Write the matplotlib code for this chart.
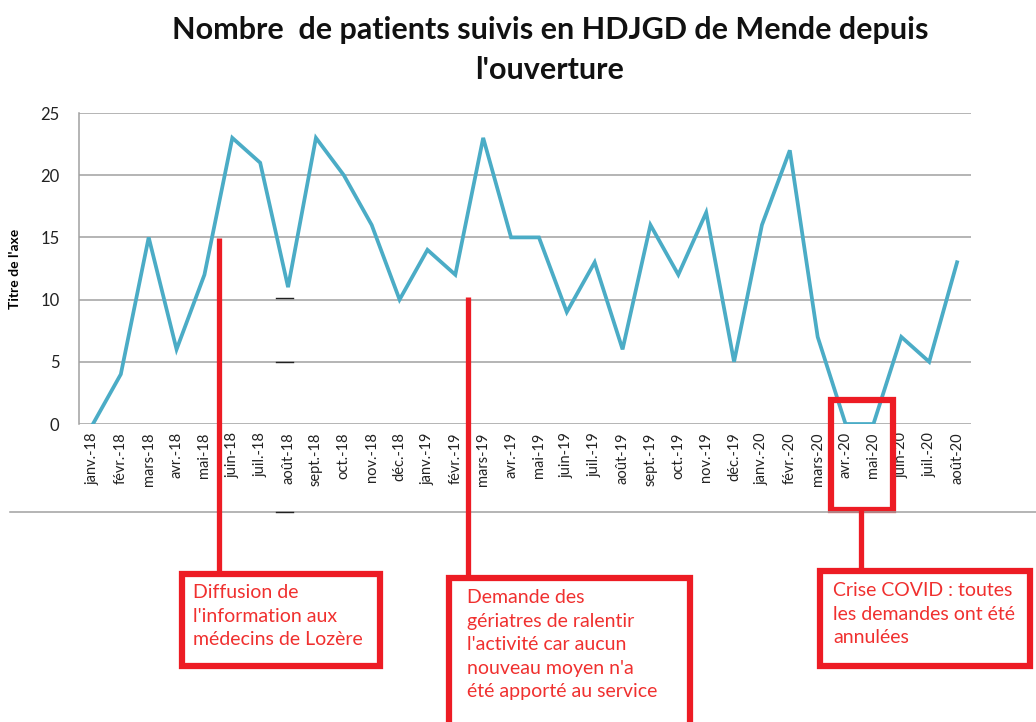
import matplotlib
matplotlib.use("Agg")
import matplotlib.pyplot as plt
from matplotlib.patches import Rectangle
from matplotlib.lines import Line2D

months = ["janv.-18", "févr.-18", "mars-18", "avr.-18", "mai-18", "juin-18", "juil.-18", "août-18",
          "sept.-18", "oct.-18", "nov.-18", "déc.-18", "janv.-19", "févr.-19", "mars-19", "avr.-19",
          "mai-19", "juin-19", "juil.-19", "août-19", "sept.-19", "oct.-19", "nov.-19", "déc.-19",
          "janv.-20", "févr.-20", "mars-20", "avr.-20", "mai-20", "juin-20", "juil.-20", "août-20"]
patients = [0, 4, 15, 6, 12, 23, 21, 11, 23, 20, 16, 10, 14, 12, 23, 15,
            15, 9, 13, 6, 16, 12, 17, 5, 16, 22, 7, 0, 0, 7, 5, 13]
yticks = [0, 5, 10, 15, 20, 25]

title = "Nombre  de patients suivis en HDJGD de Mende depuis\nl'ouverture"
ylabel = "Titre de l'axe"
note1 = "Diffusion de\nl'information aux\nmédecins de Lozère"
note2 = "Demande des\ngériatres de ralentir\nl'activité car aucun\nnouveau moyen n'a\nété apporté au service"
note3 = "Crise COVID : toutes\nles demandes ont été\nannulées"

W, H = 1036, 722
FONT = ["Lato", "DejaVu Sans"]
plt.rcParams['font.family'] = FONT

fig = plt.figure(figsize=(W / 100, H / 100), dpi=100)
fig.patch.set_facecolor("white")

def fx(x):
    return x / W

def fy(y):
    return 1 - y / H

ax = fig.add_axes([fx(79), fy(424), fx(971) - fx(79), fy(113) - fy(424)])
xs = list(range(len(months)))
ax.plot(xs, patients, color="#4BACC6", lw=2.7, solid_joinstyle="miter", zorder=3)
ax.set_xlim(-0.5, len(months) - 0.5)
ax.set_ylim(0, 25)
ax.set_yticks(yticks)
ax.set_xticks(xs)
ax.set_xticklabels(months, rotation=90, fontsize=10.5, color="#222222")
ax.tick_params(axis="y", labelsize=12, length=0, pad=14, labelcolor="#222222")
ax.tick_params(axis="x", length=0, pad=6)
ax.grid(axis="y", color="#A0A0A0", lw=1.1)
ax.set_axisbelow(True)
for s in ["top", "right", "bottom"]:
    ax.spines[s].set_visible(False)
ax.spines["left"].set_color("#A0A0A0")
ax.spines["left"].set_linewidth(1.1)
ax.set_ylabel(ylabel, fontsize=10, fontweight="bold", labelpad=14)

fig.text(fx(550), fy(50), title, ha="center", va="center", fontsize=22,
         fontweight="bold", linespacing=1.53, color="#111111")

# lower separator line and small stray dashes
fig.add_artist(Line2D([fx(10), fx(1036)], [fy(512), fy(512)], color="#A0A0A0", lw=1.1))
for yy in (298, 362, 512):
    fig.add_artist(Line2D([fx(276), fx(293)], [fy(yy), fy(yy)], color="#222222", lw=1.0))

RED = "#ED1C24"
TXT = "#F0302F"

def vline(x, y0, y1):
    fig.add_artist(Line2D([fx(x), fx(x)], [fy(y0), fy(y1)], color=RED, lw=3.8,
                          solid_capstyle="butt"))

def box(x0, y0, x1, y1):
    fig.add_artist(Rectangle((fx(x0), fy(y1)), fx(x1) - fx(x0), fy(y0) - fy(y1),
                             fill=False, edgecolor=RED, lw=4.5, joinstyle="miter"))

LS = 1.47
vline(219, 238, 574)
box(182, 574, 380, 666)
fig.text(fx(193), fy(584), note1, ha="left", va="top", fontsize=14, color=TXT, linespacing=LS)

vline(468, 297, 578)
box(449, 578, 690, 725)
fig.text(fx(467), fy(589), note2, ha="left", va="top", fontsize=14, color=TXT, linespacing=LS)

box(831, 400, 893, 510)
vline(861, 510, 571)
box(820, 571, 1030, 666)
fig.text(fx(833), fy(582), note3, ha="left", va="top", fontsize=14, color=TXT, linespacing=LS)

fig.savefig("out.png", dpi=100, facecolor="white")
